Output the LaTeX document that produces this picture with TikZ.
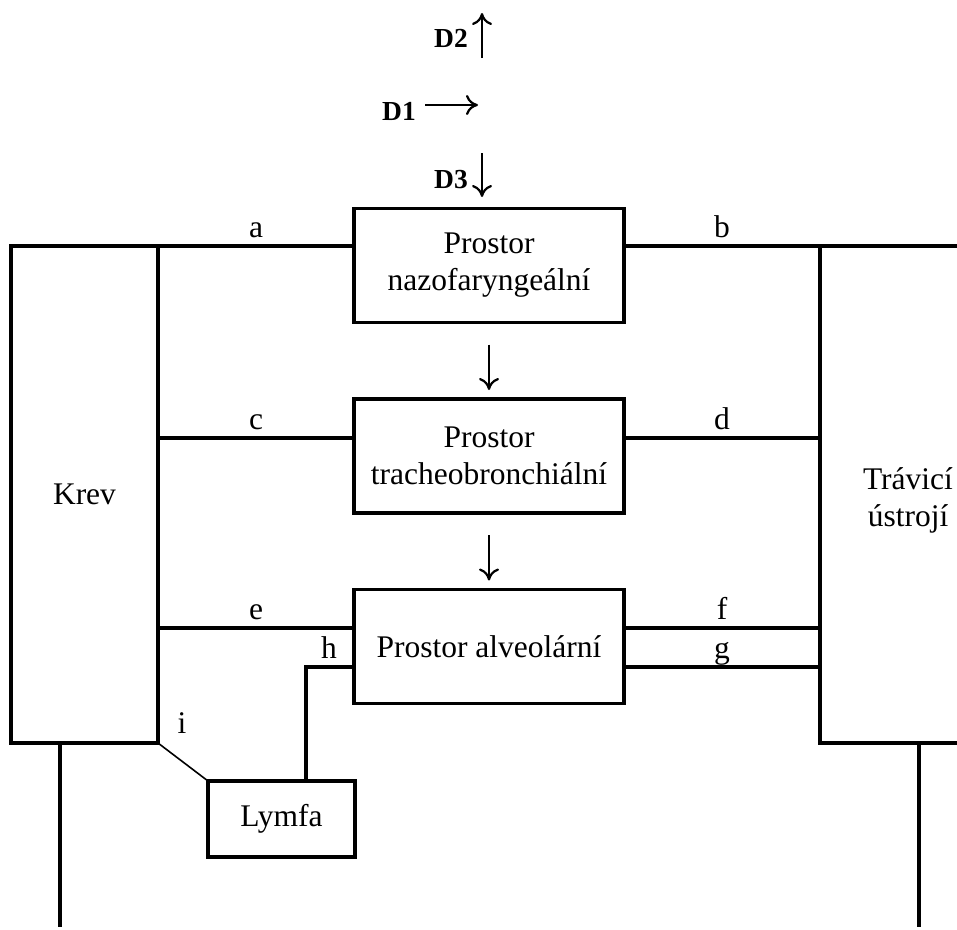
\documentclass[tikz,border=0pt]{standalone}
\usepackage{fontspec}
\setmainfont{Liberation Serif}
\usetikzlibrary{arrows.meta}
\begin{document}
\begin{tikzpicture}[x=1pt,y=-1pt,
  txt/.style={font=\fontsize{31.5}{37}\selectfont},
  box/.style={txt,draw,line width=3.2pt,minimum width=270pt,minimum height=114pt,inner sep=0pt,outer sep=0pt,align=center},
  lab/.style={txt,anchor=base,inner sep=0pt},
  conn/.style={line width=3.2pt},
  arr/.style={line width=2.2pt,-{Computer Modern Rightarrow[length=12pt,width=20pt]}},
  dlab/.style={font=\fontsize{27.5}{32}\selectfont\bfseries,anchor=base,inner sep=0pt}]
\useasboundingbox (0,0) rectangle (957,929);

% main boxes
\node[box] (naz) at (489,265.5) {Prostor\\nazofaryngeální};
\node[box] (tra) at (489,456) {Prostor\\tracheobronchiální};
\node[box] (alv) at (489,646.5) {Prostor alveolární};
\node[box,minimum width=147pt,minimum height=76pt] (lym) at (281.5,819) {Lymfa};
\node[box,minimum width=147pt,minimum height=497pt] (krev) at (84.5,494.5) {Krev};
\node[txt,align=center] (trav) at (908,500) {Trávicí\\ústrojí};

% digestive tract outline (open to the right)
\coordinate (tvtl) at (820,246);
\coordinate (tvtr) at (957,246);
\coordinate (tvbl) at (820,743);
\coordinate (tvbr) at (957,743);
\coordinate (kb) at (60,927);
\coordinate (tb) at (919,927);

\draw[conn] (tvtl) -- (tvbl) -- (tvbr);

% connectors
\draw[conn] (krev.north east) -- (naz.west |- krev.north east);
\draw[conn] (naz.east |- tvtl) -- (tvtr);
\draw[conn] (krev.east |- 0,438) -- (tra.west |- 0,438);
\draw[conn] (tra.east |- 0,438) -- (tvtl |- 0,438);
\draw[conn] (krev.east |- 0,628) -- (alv.west |- 0,628);
\draw[conn] (alv.east |- 0,628) -- (tvtl |- 0,628);
\draw[conn] (alv.east |- 0,667) -- (tvtl |- 0,667);
\draw[conn] (alv.west |- 0,667) -| (lym.north -| 306,0);
\draw[line width=1.6pt] (krev.south east) -- (lym.north west);
\draw[conn] (kb |- krev.south) -- (kb);
\draw[conn] (tb |- tvbl) -- (tb);

% flow arrows
\draw[arr,shorten <=22pt,shorten >=9pt] (naz) -- (tra);
\draw[arr,shorten <=22pt,shorten >=9pt] (tra) -- (alv);

% labels
\node[lab] (la) at (256,237) {a};
\node[lab] (lb) at (722,237) {b};
\node[lab] (lc) at (256,429) {c};
\node[lab] (ld) at (722,429) {d};
\node[lab] (le) at (256,619) {e};
\node[lab] (lf) at (722,619) {f};
\node[lab] (lg) at (722,658) {g};
\node[lab] (lh) at (329,658) {h};
\node[lab] (li) at (182,733) {i};

% D arrows
\node[dlab] (d2) at (451,47) {D2};
\node[dlab] (d1) at (399,120) {D1};
\node[dlab] (d3) at (451,188) {D3};
\coordinate (d2s) at (482,58);
\coordinate (d2e) at (482,13);
\coordinate (d1s) at (425,105);
\coordinate (d1e) at (478,105);
\coordinate (d3s) at (482,153);
\coordinate (d3e) at (482,197);
\draw[arr] (d2s) -- (d2e);
\draw[arr] (d1s) -- (d1e);
\draw[arr] (d3s) -- (d3e);
\end{tikzpicture}
\end{document}
